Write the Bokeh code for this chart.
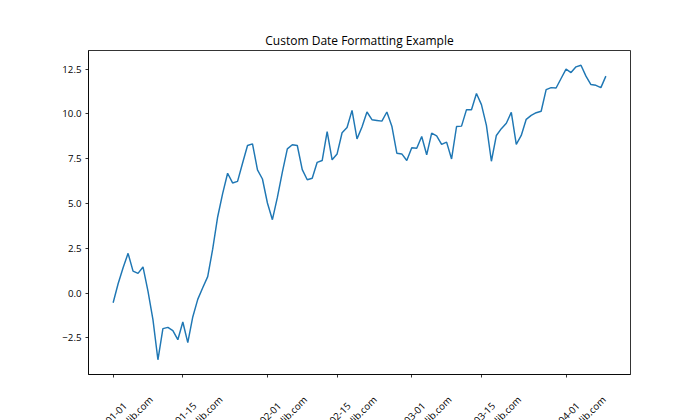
import math
import numpy as np
import pandas as pd
from bokeh.plotting import figure
from bokeh.layouts import column
from bokeh.models import Range1d, FixedTicker, ColumnDataSource
from bokeh.core.properties import value
from bokeh.embed import file_html
from bokeh.resources import INLINE

# ---------------- data ----------------
title_text = "Custom Date Formatting Example"
start_date = "2024-01-01"
values = [
    -0.54, 0.52, 1.42, 2.22, 1.23, 1.10, 1.46, 0.11, -1.48, -3.72,
    -1.98, -1.91, -2.09, -2.60, -1.61, -2.76, -1.33, -0.35, 0.30, 0.92,
    2.45, 4.25, 5.55, 6.69, 6.15, 6.24, 7.25, 8.24, 8.33, 6.88,
    6.37, 5.03, 4.10, 5.34, 6.75, 8.05, 8.28, 8.24, 6.89, 6.33,
    6.41, 7.30, 7.40, 9.02, 7.44, 7.77, 8.95, 9.24, 10.20, 8.61,
    9.27, 10.11, 9.68, 9.64, 9.60, 10.11, 9.32, 7.81, 7.77, 7.40,
    8.11, 8.09, 8.74, 7.72, 8.93, 8.78, 8.30, 8.43, 7.49, 9.30,
    9.32, 10.24, 10.24, 11.14, 10.52, 9.36, 7.36, 8.80, 9.18, 9.48,
    10.09, 8.30, 8.80, 9.70, 9.92, 10.07, 10.15, 11.36, 11.47, 11.45,
    11.98, 12.50, 12.31, 12.63, 12.72, 12.11, 11.64, 11.60, 11.47, 12.11,
]
tick_dates = ["2024-01-01", "2024-01-15", "2024-02-01", "2024-02-15",
              "2024-03-01", "2024-03-15", "2024-04-01"]
tick_labels_top = ["01-01", "01-15", "02-01", "02-15", "03-01", "03-15", "04-01"]
tick_labels_bottom = ["how2matplotlib.com"] * len(tick_labels_top)
y_ticks = [-2.5, 0.0, 2.5, 5.0, 7.5, 10.0, 12.5]
y_tick_labels = ["\u22122.5", "0.0", "2.5", "5.0", "7.5", "10.0", "12.5"]

# ---------------- layout constants (pixels) ----------------
W, H = 700, 420
LEFT, RIGHT, TOP = 88, 70, 50
FRAME_H = 324
AXIS_GAP = 6                      # room for the x ticks under the frame
STRIP_H = H - TOP - FRAME_H - AXIS_GAP   # strip that holds rotated tick labels
FONT = "Open Sans"
LABEL_SIZE = "9.7px"

def to_ms(d):
    return pd.DatetimeIndex(d).values.astype("datetime64[ms]").astype("int64").astype(float)

dates = pd.date_range(start_date, periods=len(values))
x_ms = to_ms(dates)
tick_ms = to_ms(pd.to_datetime(tick_dates))

xspan = x_ms[-1] - x_ms[0]
ymin, ymax = min(values), max(values)
yspan = ymax - ymin
x_range = Range1d(x_ms[0] - 0.05 * xspan, x_ms[-1] + 0.05 * xspan)
y_range = Range1d(ymin - 0.05 * yspan, ymax + 0.05 * yspan)

# ---------------- main figure ----------------
p = figure(width=W, height=TOP + FRAME_H + AXIS_GAP, x_axis_type="datetime",
           x_range=x_range, y_range=y_range,
           output_backend="svg", toolbar_location=None,
           min_border_left=LEFT, min_border_right=RIGHT,
           min_border_top=TOP, min_border_bottom=AXIS_GAP)

p.line(x=x_ms, y=values, line_color="#1f77b4", line_width=1.46)

p.title.text = title_text
p.title.align = "center"
p.title.text_font = FONT
p.title.text_font_size = "12px"
p.title.text_font_style = "normal"
p.title.text_color = "black"
p.title.standoff = 4

p.grid.visible = False
p.outline_line_color = "black"
p.outline_line_width = 0.8
p.outline_line_alpha = 1.0
p.background_fill_color = "white"
p.border_fill_color = "white"

for ax in (p.xaxis, p.yaxis):
    ax.axis_line_color = "black"
    ax.axis_line_width = 0.8
    ax.major_tick_line_color = "black"
    ax.major_tick_line_width = 0.8
    ax.major_tick_out = 3
    ax.major_tick_in = 0
    ax.minor_tick_out = 0
    ax.minor_tick_in = 0
    ax.major_label_text_font = FONT
    ax.major_label_text_font_size = LABEL_SIZE
    ax.major_label_text_color = "black"

p.yaxis.ticker = FixedTicker(ticks=y_ticks)
p.yaxis.major_label_overrides = {t: s for t, s in zip(y_ticks, y_tick_labels)}
p.yaxis.major_label_standoff = 4

p.xaxis.ticker = FixedTicker(ticks=list(tick_ms))
p.xaxis.major_label_overrides = {float(t): "" for t in tick_ms}
p.xaxis.major_label_text_font_size = "0px"
p.xaxis.major_label_standoff = 0

# ---------------- strip with rotated two-line tick labels ----------------
p2 = figure(width=W, height=STRIP_H, x_range=x_range,
            y_range=Range1d(-STRIP_H, 0),
            x_axis_type=None, y_axis_type=None,
            output_backend="svg", toolbar_location=None,
            min_border_left=LEFT, min_border_right=RIGHT,
            min_border_top=0, min_border_bottom=0)
p2.grid.visible = False
p2.outline_line_color = None
p2.background_fill_color = "white"
p2.border_fill_color = "white"

n = len(tick_ms)
top_src = ColumnDataSource(dict(x=list(tick_ms), y=[-32.5] * n, text=tick_labels_top))
p2.text(x="x", y="y", text="text", source=top_src,
        angle=math.pi / 4, text_align="center", text_baseline="middle",
        x_offset=3, text_font=value(FONT), text_font_size=LABEL_SIZE,
        text_color="black")

bot_src = ColumnDataSource(dict(x=list(tick_ms), y=[-17.5] * n, text=tick_labels_bottom))
p2.text(x="x", y="y", text="text", source=bot_src,
        angle=math.pi / 4, text_align="right", text_baseline="middle",
        x_offset=38, text_font=value(FONT), text_font_size=LABEL_SIZE,
        text_color="black")

layout = column(p, p2, spacing=0)
open("out.html", "w").write(file_html(layout, INLINE))
